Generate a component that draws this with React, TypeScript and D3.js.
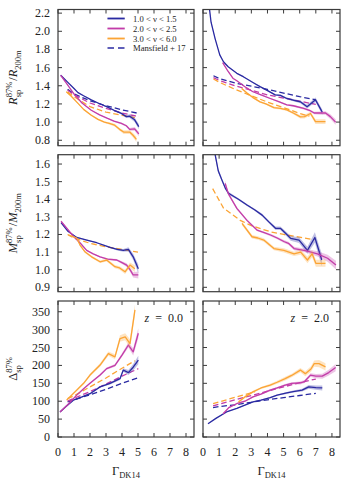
import React from "react";
import * as d3 from "d3";

// ---------- data ----------
// each point: [Gamma_DK14, value, error]
const gammaTicks = [0, 1, 2, 3, 4, 5, 6, 7, 8];
const rTicks = [0.8, 1.0, 1.2, 1.4, 1.6, 1.8, 2.0, 2.2];
const mTicks = [0.9, 1.0, 1.1, 1.2, 1.3, 1.4, 1.5, 1.6];
const dTicks = [0, 50, 100, 150, 200, 250, 300, 350];
const legendLabels = ["1.0 < ν < 1.5", "2.0 < ν < 2.5", "3.0 < ν < 6.0", "Mansfield + 17"];
const redshiftLabels = ["0.0", "2.0"];

// R_sp / R_200m, z = 0
const rZ0Low = [[0.17,1.515,0.008],[0.6,1.44,0.005],[1.0,1.37,0.004],[1.25,1.325,0.004],[1.6,1.29,0.004],[2.08,1.245,0.004],[2.5,1.21,0.005],[3.1,1.165,0.006],[3.5,1.13,0.008],[3.96,1.095,0.01],[4.27,1.06,0.015],[4.48,1.065,0.02],[4.79,1.025,0.025],[5.05,0.95,0.03]];
const rZ0Mid = [[0.17,1.515,0.008],[0.6,1.41,0.005],[1.04,1.30,0.004],[1.5,1.21,0.004],[2.08,1.13,0.005],[2.6,1.08,0.005],[3.1,1.04,0.006],[3.5,1.01,0.008],[3.96,0.985,0.01],[4.27,0.96,0.012],[4.48,0.92,0.015],[4.79,0.925,0.02],[5.05,0.87,0.025]];
const rZ0High = [[0.52,1.334,0.01],[0.8,1.29,0.008],[1.25,1.206,0.008],[1.6,1.14,0.008],[2.08,1.076,0.008],[2.5,1.03,0.01],[2.9,1.0,0.01],[3.2,0.985,0.012],[3.54,0.966,0.015],[3.85,0.92,0.015],[4.1,0.89,0.02],[4.48,0.89,0.02],[4.69,0.855,0.025],[4.9,0.81,0.03]];
const rZ0FitLow = [[0.6,1.36],[1,1.31],[2,1.235],[3,1.18],[4,1.135],[5.05,1.095]];
const rZ0FitMid = [[0.6,1.35],[1,1.30],[2,1.21],[3,1.15],[4,1.10],[5.05,1.06]];
const rZ0FitHigh = [[0.6,1.33],[1,1.28],[2,1.17],[3,1.11],[4,1.075],[4.8,1.05]];

// R_sp / R_200m, z = 2
const rZ2Low = [[0.3,2.4,0.02],[0.5,2.1,0.015],[0.75,1.92,0.01],[1.04,1.74,0.008],[1.27,1.665,0.006],[1.56,1.61,0.005],[2.1,1.537,0.005],[2.5,1.50,0.005],[3.15,1.43,0.006],[3.54,1.39,0.006],[3.98,1.35,0.008],[4.48,1.30,0.008],[4.8,1.295,0.01],[5.2,1.26,0.01],[5.65,1.24,0.012],[6.04,1.223,0.015],[6.46,1.17,0.02],[6.98,1.245,0.025],[7.4,1.11,0.03]];
const rZ2Mid = [[1.22,1.655,0.01],[1.55,1.56,0.008],[1.875,1.48,0.006],[2.1,1.455,0.006],[2.6,1.39,0.006],[3.1,1.334,0.006],[3.6,1.30,0.006],[4.17,1.26,0.007],[4.7,1.225,0.008],[5.2,1.19,0.008],[5.6,1.18,0.01],[6.25,1.15,0.01],[6.6,1.13,0.012],[6.9,1.10,0.015],[7.3,1.10,0.018],[7.6,1.10,0.02],[7.9,1.06,0.025],[8.23,1.00,0.03]];
const rZ2High = [[2.4,1.37,0.01],[2.73,1.32,0.01],[3.1,1.27,0.01],[3.54,1.223,0.01],[3.9,1.20,0.01],[4.4,1.16,0.012],[4.79,1.15,0.012],[5.2,1.135,0.014],[5.6,1.10,0.015],[6.04,1.057,0.018],[6.3,1.06,0.02],[6.67,1.095,0.02],[6.98,1.005,0.025],[7.3,1.005,0.025],[7.6,1.005,0.025]];
const rZ2FitLow = [[0.65,1.51],[1,1.48],[2,1.43],[3,1.395],[4,1.36],[5,1.32],[6,1.28],[7,1.245]];
const rZ2FitMid = [[0.65,1.49],[1,1.46],[2,1.40],[3,1.35],[4,1.30],[5,1.265],[6,1.23],[7,1.195]];
const rZ2FitHigh = [[0.65,1.475],[1,1.44],[2,1.36],[3,1.29],[4,1.22],[5,1.16],[6,1.095],[6.6,1.065]];

// M_sp / M_200m, z = 0
const mZ0Low = [[0.19,1.267,0.005],[0.6,1.22,0.004],[1.17,1.183,0.003],[1.8,1.168,0.003],[2.42,1.153,0.003],[3.25,1.127,0.004],[3.7,1.115,0.006],[4.08,1.11,0.008],[4.4,1.115,0.012],[4.7,1.073,0.018],[5.02,1.005,0.025]];
const mZ0Mid = [[0.19,1.275,0.005],[0.6,1.23,0.004],[0.96,1.19,0.004],[1.4,1.15,0.004],[1.79,1.11,0.004],[2.2,1.09,0.004],[2.63,1.073,0.004],[3.1,1.06,0.005],[3.67,1.055,0.006],[4.0,1.04,0.008],[4.29,1.026,0.01],[4.5,1.0,0.012],[4.7,0.97,0.015],[5.02,0.97,0.02]];
const mZ0High = [[0.65,1.197,0.006],[1.17,1.18,0.006],[1.375,1.14,0.006],[1.7,1.10,0.006],[2.1,1.073,0.006],[2.63,1.045,0.007],[3.04,1.055,0.008],[3.56,1.017,0.009],[3.85,1.01,0.01],[4.19,0.988,0.012],[4.5,1.026,0.015],[4.8,1.005,0.02]];
const mZ0FitHigh = [[0.6,1.2],[1,1.18],[2,1.15],[3,1.13],[4,1.115],[5,1.10]];

// M_sp / M_200m, z = 2
const mZ2Low = [[0.6,1.76,0.02],[0.75,1.655,0.015],[0.95,1.56,0.012],[1.17,1.51,0.01],[1.4,1.46,0.008],[1.58,1.434,0.008],[2.2,1.40,0.006],[2.73,1.367,0.006],[3.2,1.34,0.006],[3.67,1.31,0.008],[4.1,1.27,0.008],[4.5,1.235,0.01],[4.8,1.235,0.01],[5.2,1.20,0.012],[5.44,1.178,0.014],[5.96,1.168,0.016],[6.48,1.11,0.02],[6.94,1.183,0.03],[7.37,1.055,0.035]];
const mZ2Mid = [[1.375,1.49,0.015],[1.58,1.43,0.01],[2.1,1.348,0.008],[2.73,1.28,0.006],[3.35,1.225,0.006],[3.8,1.21,0.006],[4.19,1.197,0.007],[4.6,1.18,0.007],[5.02,1.16,0.008],[5.3,1.15,0.008],[5.65,1.12,0.01],[6.27,1.11,0.01],[6.7,1.10,0.012],[7.1,1.09,0.015],[7.73,1.065,0.02],[8.25,1.026,0.025]];
const mZ2High = [[2.42,1.263,0.01],[3.04,1.187,0.01],[3.4,1.18,0.01],[3.77,1.168,0.01],[4.4,1.12,0.01],[5.02,1.11,0.012],[5.65,1.09,0.012],[6.06,1.10,0.015],[6.48,1.055,0.018],[6.77,1.09,0.02],[7.0,1.036,0.02],[7.6,1.036,0.02]];
const mZ2FitHigh = [[0.6,1.46],[1.27,1.35],[2.31,1.28],[3,1.25],[4.19,1.215],[5,1.20],[6,1.185],[6.9,1.17]];

// Delta_sp, z = 0
const dZ0Low = [[0.125,70,1],[0.5,85,1],[0.96,103,1],[1.5,112,1.5],[2.0,121,2],[2.63,140,2],[3.25,150,3],[3.875,163,4],[4.08,187,5],[4.4,180,7],[4.7,195,9],[5.02,215,12]];
const dZ0Mid = [[0.125,70,1],[0.6,90,1],[1.17,117,1.5],[1.6,135,2],[2.0,150,2],[2.63,173,3],[3.04,191,3],[3.56,200,4],[4.0,229,5],[4.4,257,7],[4.7,238,10],[5.02,290,14]];
const dZ0High = [[0.54,103,3],[1.17,131,3],[1.6,150,3],[2.0,173,4],[2.63,201,5],[3.15,233,6],[3.56,224,7],[3.875,275,9],[4.2,280,10],[4.5,261,12],[4.81,355,15]];
const dZ0FitLow = [[0.6,98],[1,104],[2,118],[3,133],[4,150],[5.02,166]];
const dZ0FitMid = [[0.6,100],[1,108],[2,127],[3,148],[4,170],[5.02,191]];
const dZ0FitHigh = [[0.6,107],[1,115],[2,140],[3,165],[4,192],[4.8,213]];

// Delta_sp, z = 2
const dZ2Low = [[0.31,37,1],[0.8,52,1],[1.46,70,1],[2.1,80,1],[3.1,98,1.5],[3.6,103,1.5],[4.17,110,2],[4.6,117,2],[5.2,123,3],[5.6,127,3],[6.15,131,4],[6.56,140,5],[7.0,138,6],[7.4,137,7]];
const dZ2Mid = [[1.25,65,2],[1.6,82,2],[2.08,93,2],[2.6,100,2],[3.1,112,2],[3.6,120,2],[4.17,131,3],[4.6,137,3],[5.1,145,3],[5.5,150,3],[6.04,151,4],[6.3,155,4],[6.67,173,5],[7.0,170,6],[7.4,170,7],[7.8,180,8],[8.23,194,10]];
const dZ2High = [[2.2,98,3],[2.6,112,3],[3.1,126,3],[3.6,137,3],[4.17,145,4],[4.6,153,4],[5.1,163,5],[5.5,172,5],[6.04,187,6],[6.35,177,7],[6.7,190,8],[6.9,205,9],[7.2,205,10],[7.6,196,10]];
const dZ2FitLow = [[0.625,82],[1,85],[2,90],[3,97],[4,104],[5,110],[6,116],[7,122]];
const dZ2FitMid = [[0.625,87],[1,92],[2,104],[3,116],[4,128],[5,140],[6,152],[7,162]];
const dZ2FitHigh = [[0.625,93],[1,98],[2,111],[3.2,126]];

// ---------- style ----------
const COLORS = ["#2a2aa2", "#c23ca8", "#fba435"];
const FRAME = "#3a3a3a";
const SERIF = "'Liberation Serif', 'Times New Roman', 'DejaVu Serif', serif";

const COLS = [{ x0: 58, x1: 194 }, { x0: 203, x1: 340 }];
const ROWS = [
  { y0: 9.5, y1: 145.7, domain: [0.74, 2.24], ticks: rTicks, fmt: (v: number) => v.toFixed(1) },
  { y0: 154.7, y1: 291.7, domain: [0.875, 1.653], ticks: mTicks, fmt: (v: number) => v.toFixed(1) },
  { y0: 301, y1: 437, domain: [0, 380], ticks: dTicks, fmt: (v: number) => String(v) },
];

type Panel = { solid: number[][][]; dashed: (number[][] | null)[] };
const PANELS: Panel[][] = [
  [
    { solid: [rZ0Low, rZ0Mid, rZ0High], dashed: [rZ0FitLow, rZ0FitMid, rZ0FitHigh] },
    { solid: [rZ2Low, rZ2Mid, rZ2High], dashed: [rZ2FitLow, rZ2FitMid, rZ2FitHigh] },
  ],
  [
    { solid: [mZ0Low, mZ0Mid, mZ0High], dashed: [null, null, mZ0FitHigh] },
    { solid: [mZ2Low, mZ2Mid, mZ2High], dashed: [null, null, mZ2FitHigh] },
  ],
  [
    { solid: [dZ0Low, dZ0Mid, dZ0High], dashed: [dZ0FitLow, dZ0FitMid, dZ0FitHigh] },
    { solid: [dZ2Low, dZ2Mid, dZ2High], dashed: [dZ2FitLow, dZ2FitMid, dZ2FitHigh] },
  ],
];

function PanelView({ r, c }: { r: number; c: number }) {
  const col = COLS[c];
  const row = ROWS[r];
  const x = d3.scaleLinear().domain([0, 8.5]).range([col.x0, col.x1]);
  const y = d3.scaleLinear().domain(row.domain).range([row.y1, row.y0]);
  const p = PANELS[r][c];
  const id = `clip-${r}-${c}`;
  const line = d3.line<number[]>().x((d) => x(d[0])).y((d) => y(d[1]));
  const area = d3
    .area<number[]>()
    .x((d) => x(d[0]))
    .y0((d) => y(d[1] - d[2]))
    .y1((d) => y(d[1] + d[2]));
  const tl = 4;
  return (
    <g>
      <defs>
        <clipPath id={id}>
          <rect x={col.x0} y={row.y0} width={col.x1 - col.x0} height={row.y1 - row.y0} />
        </clipPath>
      </defs>
      <g clipPath={`url(#${id})`}>
        {p.dashed.map((d, i) =>
          d ? (
            <path key={"d" + i} d={line(d) || ""} fill="none" stroke={COLORS[i]} strokeWidth={1.3} strokeDasharray="5.5,3" />
          ) : null
        )}
        {p.solid.map((s, i) => (
          <g key={"s" + i}>
            <path d={area(s) || ""} fill={COLORS[i]} opacity={0.3} />
            <path d={line(s) || ""} fill="none" stroke={COLORS[i]} strokeWidth={1.3} strokeLinejoin="round" />
          </g>
        ))}
      </g>
      {gammaTicks.map((t) => (
        <g key={"xt" + t}>
          <line x1={x(t)} x2={x(t)} y1={row.y1} y2={row.y1 - tl} stroke={FRAME} strokeWidth={1} />
          <line x1={x(t)} x2={x(t)} y1={row.y0} y2={row.y0 + tl} stroke={FRAME} strokeWidth={1} />
        </g>
      ))}
      {row.ticks.map((t) => (
        <g key={"yt" + t}>
          <line x1={col.x0} x2={col.x0 + tl} y1={y(t)} y2={y(t)} stroke={FRAME} strokeWidth={1} />
          <line x1={col.x1} x2={col.x1 - tl} y1={y(t)} y2={y(t)} stroke={FRAME} strokeWidth={1} />
        </g>
      ))}
      <rect x={col.x0} y={row.y0} width={col.x1 - col.x0} height={row.y1 - row.y0} fill="none" stroke={FRAME} strokeWidth={1.2} />
      {c === 0 &&
        row.ticks.map((t) => (
          <text key={"yl" + t} x={col.x0 - 8} y={y(t) + 4} textAnchor="end" fontSize={12} fontFamily={SERIF} fill="#222">
            {row.fmt(t)}
          </text>
        ))}
      {r === 2 &&
        gammaTicks.map((t) => (
          <text key={"xl" + t} x={x(t)} y={455.5} textAnchor="middle" fontSize={12} fontFamily={SERIF} fill="#222">
            {t}
          </text>
        ))}
      {r === 2 && (
        <text x={(col.x0 + col.x1) / 2} y={475} textAnchor="middle" fontFamily={SERIF} fill="#222" fontSize={12.5}>
          Γ<tspan fontSize={8.5} dy={3}>DK14</tspan>
        </text>
      )}
      {r === 2 && (
        <text x={col.x1 - 11} y={322} textAnchor="end" fontFamily={SERIF} fill="#222" fontSize={12}>
          <tspan fontStyle="italic">z</tspan>
          {"\u2002=\u2002" + redshiftLabels[c]}
        </text>
      )}
    </g>
  );
}

function YLabel({ cy, sym, italic, denom }: { cy: number; sym: string; italic: boolean; denom?: string }) {
  return (
    <g transform={`translate(17, ${cy}) rotate(-90)`}>
      <text x={0} y={0} textAnchor="middle" fontFamily={SERIF} fill="#222" fontSize={12.5}>
        <tspan fontStyle={italic ? "italic" : "normal"}>{sym}</tspan>
        <tspan fontSize={8.5} dy={3.5}>sp</tspan>
        <tspan fontSize={8.5} dx={-7.6} dy={-9}>87%</tspan>
        {denom ? (
          <>
            <tspan dy={5.5} dx={1}>/</tspan>
            <tspan fontStyle="italic">{denom}</tspan>
            <tspan fontSize={8.5} dy={3.5}>200m</tspan>
          </>
        ) : null}
      </text>
    </g>
  );
}

function Legend() {
  const xs = 107.5;
  const xe = 124.7;
  const ys = [18.5, 28.5, 38.5, 48];
  return (
    <g>
      {[0, 1, 2].map((i) => (
        <g key={i}>
          <rect x={xs} y={ys[i] - 1.5} width={xe - xs} height={3} fill={COLORS[i]} opacity={0.3} />
          <line x1={xs} x2={xe} y1={ys[i]} y2={ys[i]} stroke={COLORS[i]} strokeWidth={1.3} />
        </g>
      ))}
      <line x1={xs} x2={xe} y1={ys[3]} y2={ys[3]} stroke={COLORS[0]} strokeWidth={1.5} strokeDasharray="6.5,4" />
      {legendLabels.map((l, i) => (
        <text key={l} x={133} y={ys[i] + 3} fontFamily={SERIF} fontSize={8.6} fill="#222">
          {l}
        </text>
      ))}
    </g>
  );
}

export default function App() {
  return (
    <svg width={342} height={485} style={{ position: "absolute", left: 0, top: 0, background: "#fff" }}>
      <rect x={0} y={0} width={342} height={485} fill="#fff" />
      {[0, 1, 2].map((r) => [0, 1].map((c) => <PanelView key={`${r}-${c}`} r={r} c={c} />))}
      <Legend />
      <YLabel cy={(ROWS[0].y0 + ROWS[0].y1) / 2} sym="R" italic denom="R" />
      <YLabel cy={(ROWS[1].y0 + ROWS[1].y1) / 2} sym="M" italic denom="M" />
      <YLabel cy={(ROWS[2].y0 + ROWS[2].y1) / 2} sym="Δ" italic={false} />
    </svg>
  );
}
